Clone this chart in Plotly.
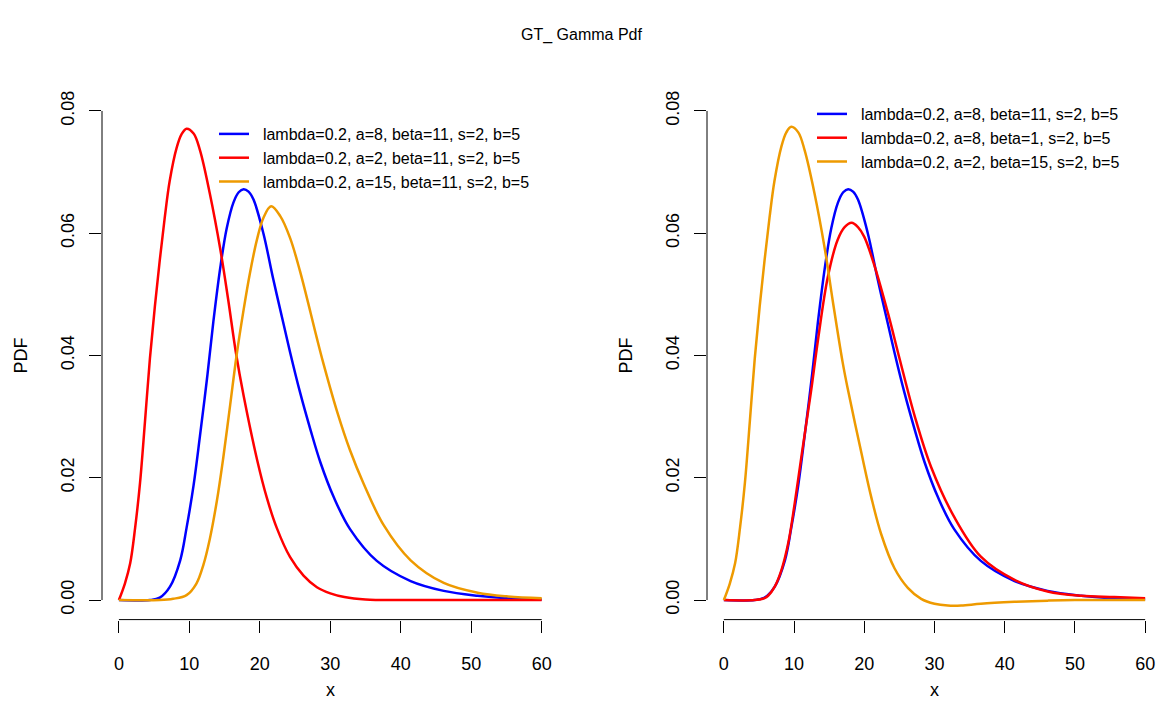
import plotly.graph_objects as go

# ---------------- data ----------------
x_ticks = [0, 10, 20, 30, 40, 50, 60]
y_ticks = [0.00, 0.02, 0.04, 0.06, 0.08]

# lambda=0.2, a=8, beta=11, s=2, b=5  (blue, both panels)
blue_x = [0, 4.4, 5.8, 7.25, 8.7, 9.6, 10.6, 11.5, 12.5, 13.4, 14.4, 15.3, 16.25, 17.0,
          17.7, 18.4, 19.1, 20.5, 21.9, 23.4, 24.3, 25.7, 27.2, 28.6, 30.5, 32.8, 36.6,
          41.4, 46.1, 50.9, 55.0, 60]
blue_y = [0, 0, 0.0004, 0.0022, 0.0065, 0.0118, 0.0188, 0.0268, 0.0362, 0.0455, 0.0545,
          0.0608, 0.0650, 0.0667, 0.0672, 0.0668, 0.0655, 0.0600, 0.0525, 0.0450, 0.0405,
          0.0340, 0.0278, 0.0225, 0.0168, 0.0116, 0.0064, 0.0031, 0.0015, 0.0007, 0.0003,
          0.0001]

# lambda=0.2, a=2, beta=11, s=2, b=5  (red, left panel)
red_l_x = [0, 0.85, 1.6, 2.3, 3.0, 3.7, 4.4, 5.1, 5.8, 6.5, 7.2, 8.2, 8.9, 9.6, 10.6,
           11.5, 12.9, 14.4, 15.5, 16.6, 17.7, 19.6, 21.0, 22.4, 24.3, 26.2, 28.1, 30.0,
           32.0, 35.0, 40, 50, 60]
red_l_y = [0, 0.0027, 0.0060, 0.0118, 0.0192, 0.0292, 0.0395, 0.0480, 0.0556, 0.0625,
           0.0685, 0.0740, 0.0762, 0.0771, 0.0763, 0.0736, 0.0665, 0.0573, 0.0492, 0.0405,
           0.0334, 0.0230, 0.0167, 0.0118, 0.0070, 0.0040, 0.0021, 0.0011, 0.0005, 0.0001,
           0.0, 0.0, 0.0]

# lambda=0.2, a=15, beta=11, s=2, b=5  (orange, left panel)
orange_l_x = [0, 5.8, 7.7, 9.6, 11.0, 12.0, 12.9, 13.9, 14.8, 15.8, 16.7, 17.7, 18.6,
              19.6, 20.5, 21.6, 22.9, 24.3, 25.7, 27.2, 28.1, 29.0, 31.0, 32.8, 34.7,
              37.6, 41.4, 46.1, 50.9, 55.0, 60]
orange_l_y = [0, 0, 0.0002, 0.0008, 0.0027, 0.0058, 0.0100, 0.0162, 0.0232, 0.0320,
              0.0400, 0.0475, 0.0535, 0.0590, 0.0625, 0.0644, 0.0628, 0.0592, 0.0538,
              0.0470, 0.0428, 0.0388, 0.0307, 0.0245, 0.0191, 0.0122, 0.0065, 0.0028,
              0.0012, 0.0006, 0.0003]

# lambda=0.2, a=8, beta=1, s=2, b=5  (red, right panel)
red_r_x = [0, 4.4, 5.8, 6.3, 7.25, 8.2, 9.2, 10.1, 10.8, 11.5, 12.4, 13.4, 14.8, 16.2,
           17.2, 18.2, 19.1, 20.0, 21.5, 23.4, 25.0, 27.2, 29.5, 32.8, 36.6, 41.4, 46.1,
           50.9, 55.6, 60]
red_r_y = [0, 0, 0.0003, 0.0007, 0.0022, 0.0049, 0.0095, 0.0159, 0.0215, 0.0270, 0.0340,
           0.0425, 0.0528, 0.0589, 0.0610, 0.0617, 0.0610, 0.0594, 0.0545, 0.0468, 0.0396,
           0.0300, 0.0218, 0.0136, 0.0071, 0.0033, 0.0014, 0.0007, 0.0005, 0.0003]

# lambda=0.2, a=2, beta=15, s=2, b=5  (orange, right panel)
orange_r_x = [0, 0.85, 1.6, 2.3, 3.0, 3.7, 4.4, 5.1, 5.8, 6.5, 7.2, 8.2, 8.9, 9.6, 10.6,
              11.5, 12.9, 14.4, 15.5, 16.9, 17.6, 19.6, 21.0, 22.4, 24.3, 26.2, 28.1,
              30.0, 31.9, 33.8, 36.6, 41.4, 46.1, 50, 60]
orange_r_y = [0, 0.0027, 0.0060, 0.0118, 0.0192, 0.0292, 0.0395, 0.0480, 0.0556, 0.0625,
              0.0685, 0.0742, 0.0765, 0.0774, 0.0765, 0.0736, 0.0666, 0.0573, 0.0490,
              0.0390, 0.0348, 0.0240, 0.0168, 0.0108, 0.0052, 0.0020, 0.0002, -0.0006,
              -0.0009, -0.0009, -0.0006, -0.0003, -0.0001, 0.0, 0.0]

names_left = ["lambda=0.2, a=8, beta=11, s=2, b=5",
              "lambda=0.2, a=2, beta=11, s=2, b=5",
              "lambda=0.2, a=15, beta=11, s=2, b=5"]
names_right = ["lambda=0.2, a=8, beta=11, s=2, b=5",
               "lambda=0.2, a=8, beta=1, s=2, b=5",
               "lambda=0.2, a=2, beta=15, s=2, b=5"]

BLUE, RED, ORANGE = "#0000FF", "#FF0000", "#EE9A00"
FONT = "Liberation Sans, Arial, Helvetica, sans-serif"
LW = 2.5
PAD = "\u00a0\u00a0"

fig = go.Figure()

left = [(blue_x, blue_y, BLUE), (red_l_x, red_l_y, RED), (orange_l_x, orange_l_y, ORANGE)]
right = [(blue_x, blue_y, BLUE), (red_r_x, red_r_y, RED), (orange_r_x, orange_r_y, ORANGE)]

for (xs, ys, c), nm in zip(left, names_left):
    fig.add_trace(go.Scatter(x=xs, y=ys, mode="lines", name=PAD + nm,
                             line=dict(color=c, width=LW, shape="spline", smoothing=1.0),
                             xaxis="x", yaxis="y", legend="legend"))
for (xs, ys, c), nm in zip(right, names_right):
    fig.add_trace(go.Scatter(x=xs, y=ys, mode="lines", name=PAD + nm,
                             line=dict(color=c, width=LW, shape="spline", smoothing=1.0),
                             xaxis="x2", yaxis="y2", legend="legend2"))

W, H = 1162, 724
xdom_l = [102 / W, 558.6 / W]
xdom_r = [707 / W, 1.0]
ydom = [(H - 619.6) / H, (H - 91.4) / H]

axis_common = dict(showgrid=False, zeroline=False, showline=False, ticks="outside",
                   ticklen=12, tickwidth=1, tickcolor="#000000",
                   tickfont=dict(family=FONT, size=18, color="#000000"))

xa = dict(axis_common, range=[-2.4, 62.4], tickvals=x_ticks, ticklabelstandoff=16)
ya = dict(axis_common, range=[-0.0032, 0.0832], tickvals=y_ticks, tickformat=".2f",
          tickangle=-90, ticklabelstandoff=8)

fig.update_layout(
    width=W, height=H, margin=dict(l=0, r=0, t=0, b=0),
    plot_bgcolor="white", paper_bgcolor="white",
    font=dict(family=FONT, color="#000000"),
    xaxis=dict(xa, domain=xdom_l, anchor="y"),
    yaxis=dict(ya, domain=ydom, anchor="x"),
    xaxis2=dict(xa, domain=xdom_r, anchor="y2"),
    yaxis2=dict(ya, domain=ydom, anchor="x2"),
    legend=dict(x=214 / W, y=(H - 117) / H, xanchor="left", yanchor="top",
                bgcolor="rgba(0,0,0,0)", font=dict(family=FONT, size=16),
                itemwidth=30, tracegroupgap=0),
    legend2=dict(x=812 / W, y=(H - 97) / H, xanchor="left", yanchor="top",
                 bgcolor="rgba(0,0,0,0)", font=dict(family=FONT, size=16),
                 itemwidth=30, tracegroupgap=0),
    showlegend=True,
)

# R-style axis lines spanning only the tick range
shapes = []
for xr, yr in (("x", "y"), ("x2", "y2")):
    shapes.append(dict(type="line", xref=xr, yref=yr + " domain", x0=x_ticks[0],
                       x1=x_ticks[-1], y0=0, y1=0, line=dict(color="#000000", width=1)))
    shapes.append(dict(type="line", xref=xr + " domain", yref=yr, x0=0, x1=0,
                       y0=y_ticks[0], y1=y_ticks[-1], line=dict(color="#000000", width=1)))
fig.update_layout(shapes=shapes)

annotations = [
    dict(text="GT_ Gamma Pdf", xref="paper", yref="paper", x=0.5, y=(H - 35) / H,
         showarrow=False, font=dict(family=FONT, size=16), xanchor="center", yanchor="middle"),
]
for xr, yr, px in (("x", "y", 20), ("x2", "y2", 625)):
    annotations.append(dict(text="x", xref=xr + " domain", yref="paper", x=0.5,
                            y=(H - 690) / H, showarrow=False, xanchor="center",
                            yanchor="middle", font=dict(family=FONT, size=18)))
    annotations.append(dict(text="PDF", xref="paper", yref=yr + " domain", x=px / W,
                            y=0.5, showarrow=False, textangle=-90, xanchor="center",
                            yanchor="middle", font=dict(family=FONT, size=18)))
fig.update_layout(annotations=annotations)

fig.write_html("out.html")
